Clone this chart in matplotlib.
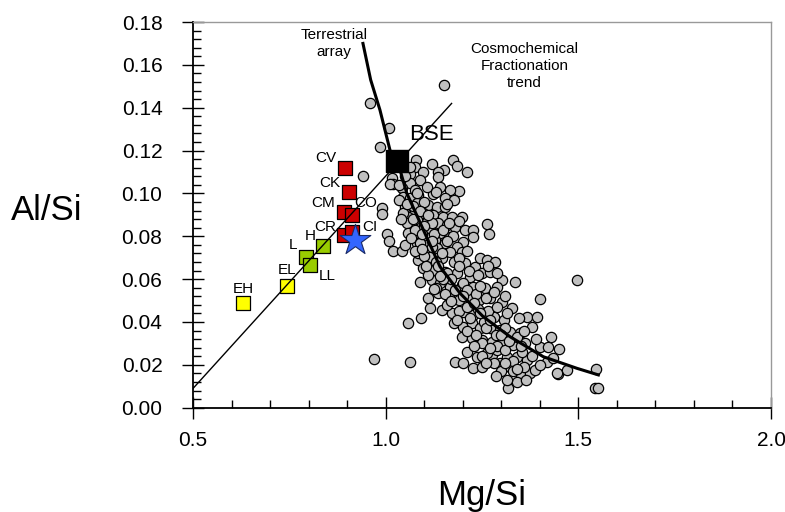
import matplotlib.pyplot as plt
import numpy as np
from matplotlib.ticker import MultipleLocator, FormatStrFormatter

plt.rcParams['font.family'] = ['Liberation Sans', 'DejaVu Sans']

# chondrite groups (Mg/Si, Al/Si)
chondrite_names = ['EH', 'EL', 'L', 'LL', 'H', 'CR', 'CI', 'CM', 'CO', 'CK', 'CV']
chondrite_mg = [0.630, 0.744, 0.794, 0.803, 0.837, 0.892, 0.912, 0.892, 0.912, 0.906, 0.894]
chondrite_al = [0.0489, 0.0568, 0.0705, 0.0665, 0.0755, 0.0806, 0.0822, 0.0912, 0.0899, 0.1008, 0.1117]
chondrite_class = ['E', 'E', 'O', 'O', 'O', 'C', 'C', 'C', 'C', 'C', 'C']

bse_mg, bse_al = 1.029, 0.1151
star_mg, star_al = 0.920, 0.0783

# cosmochemical fractionation trend end points
cosmo_mg = [0.50, 1.171]
cosmo_al = [0.0090, 0.1420]

# terrestrial array
terr_mg = [0.941, 0.961, 0.985, 1.011, 1.025, 1.037, 1.055, 1.098, 1.141, 1.193,
           1.253, 1.323, 1.409, 1.496, 1.552]
terr_al = [0.1700, 0.1530, 0.1390, 0.1203, 0.1150, 0.1110, 0.1000, 0.0829, 0.0658, 0.0534,
           0.0425, 0.0331, 0.0238, 0.0184, 0.0153]

# peridotite samples (Mg/Si, Al/Si)
peridotites = [
    (1.152, 0.1506), (0.958, 0.1420), (1.009, 0.1304), (0.986, 0.1218), (0.941, 0.1081),
    (1.016, 0.1071), (1.079, 0.1156), (1.076, 0.1125), (1.119, 0.1137), (1.174, 0.1156),
    (1.184, 0.1130), (1.212, 0.1099), (1.151, 0.1109), (1.135, 0.1099), (1.096, 0.1099),
    (1.063, 0.1091), (1.089, 0.1063), (1.191, 0.1013), (1.124, 0.0996), (1.063, 0.1050),
    (1.020, 0.1043), (1.085, 0.0993), (0.991, 0.0934), (0.991, 0.0903), (1.003, 0.0809),
    (1.009, 0.0778), (1.020, 0.0731), (1.042, 0.0731), (1.050, 0.0759), (1.059, 0.0394),
    (1.091, 0.0420), (0.970, 0.0226), (1.063, 0.0215), (1.262, 0.0857), (1.269, 0.0811),
    (1.336, 0.0585), (1.401, 0.0507), (1.496, 0.0596), (1.546, 0.0179), (1.542, 0.0091),
    (1.552, 0.0091), (1.318, 0.0091), (1.451, 0.0273), (1.428, 0.0331), (1.446, 0.0157),
    (1.470, 0.0176), (1.137, 0.1078), (1.063, 0.1122), (1.010, 0.1044), (1.042, 0.1024),
    (1.046, 0.0985), (1.063, 0.0977), (1.081, 0.0954), (1.111, 0.0946), (1.133, 0.0938),
    (1.154, 0.0938), (1.050, 0.0938), (1.076, 0.0915), (1.098, 0.0907), (1.124, 0.0899),
    (1.150, 0.0891), (1.171, 0.0891), (1.197, 0.0891), (1.059, 0.0891), (1.081, 0.0876),
    (1.107, 0.0868), (1.137, 0.0861), (1.158, 0.0853), (1.180, 0.0845), (1.206, 0.0829),
    (1.227, 0.0829), (1.227, 0.0798), (1.201, 0.0775), (1.089, 0.0837), (1.115, 0.0829),
    (1.141, 0.0814), (1.167, 0.0798), (1.102, 0.0798), (1.128, 0.0783), (1.154, 0.0767),
    (1.184, 0.0751), (1.107, 0.0759), (1.081, 0.0767), (1.133, 0.0744), (1.167, 0.0728),
    (1.197, 0.0728), (1.085, 0.0689), (1.115, 0.0705), (1.145, 0.0697), (1.176, 0.0681),
    (1.206, 0.0674), (1.232, 0.0658), (1.245, 0.0697), (1.262, 0.0689), (1.284, 0.0681),
    (1.098, 0.0651), (1.124, 0.0643), (1.154, 0.0635), (1.184, 0.0627), (1.219, 0.0611),
    (1.249, 0.0627), (1.271, 0.0635), (1.301, 0.0596), (1.089, 0.0588), (1.119, 0.0596),
    (1.141, 0.0581), (1.167, 0.0565), (1.197, 0.0573), (1.227, 0.0565), (1.258, 0.0557),
    (1.288, 0.0565), (1.111, 0.0511), (1.137, 0.0534), (1.163, 0.0518), (1.189, 0.0503),
    (1.215, 0.0518), (1.241, 0.0503), (1.271, 0.0511), (1.301, 0.0495), (1.327, 0.0464),
    (1.115, 0.0464), (1.145, 0.0456), (1.171, 0.0441), (1.201, 0.0448), (1.227, 0.0433),
    (1.254, 0.0441), (1.280, 0.0425), (1.306, 0.0409), (1.366, 0.0425), (1.392, 0.0425),
    (1.379, 0.0378), (1.176, 0.0394), (1.201, 0.0378), (1.223, 0.0394), (1.245, 0.0371),
    (1.271, 0.0371), (1.297, 0.0363), (1.323, 0.0355), (1.349, 0.0347), (1.197, 0.0331),
    (1.223, 0.0324), (1.249, 0.0316), (1.275, 0.0308), (1.301, 0.0301), (1.331, 0.0293),
    (1.362, 0.0301), (1.401, 0.0285), (1.422, 0.0285), (1.180, 0.0215), (1.201, 0.0207),
    (1.227, 0.0184), (1.249, 0.0191), (1.275, 0.0246), (1.297, 0.0207), (1.323, 0.0191),
    (1.349, 0.0161), (1.375, 0.0161), (1.388, 0.0176), (1.340, 0.0121), (1.236, 0.0238),
    (1.262, 0.0254), (1.288, 0.0269), (1.314, 0.0238), (1.340, 0.0238), (1.366, 0.0223),
    (1.418, 0.0215), (1.444, 0.0161), (1.076, 0.1016), (1.107, 0.1032), (1.141, 0.1032),
    (1.167, 0.1016), (1.154, 0.0977), (1.176, 0.0969), (1.068, 0.0845), (1.072, 0.0806),
    (1.055, 0.0861), (1.059, 0.0814), (1.119, 0.0861), (1.085, 0.0721),
    (1.035, 0.0970), (1.070, 0.0940), (1.100, 0.0960), (1.130, 0.1005), (1.160, 0.0950),
    (1.045, 0.0910), (1.090, 0.0920), (1.075, 0.0830), (1.100, 0.0850), (1.125, 0.0810),
    (1.150, 0.0830), (1.175, 0.0800), (1.190, 0.0870), (1.165, 0.0860), (1.065, 0.0790),
    (1.090, 0.0770), (1.120, 0.0750), (1.145, 0.0720), (1.160, 0.0780), (1.190, 0.0700),
    (1.210, 0.0730), (1.100, 0.0710), (1.130, 0.0680), (1.075, 0.0730), (1.110, 0.0620),
    (1.135, 0.0660), (1.160, 0.0630), (1.190, 0.0660), (1.215, 0.0640), (1.240, 0.0620),
    (1.265, 0.0660), (1.290, 0.0630), (1.170, 0.0600), (1.200, 0.0580), (1.130, 0.0560),
    (1.155, 0.0530), (1.180, 0.0550), (1.210, 0.0550), (1.235, 0.0530), (1.260, 0.0510),
    (1.280, 0.0540), (1.310, 0.0520), (1.245, 0.0570), (1.150, 0.0600), (1.160, 0.0480),
    (1.190, 0.0450), (1.210, 0.0470), (1.240, 0.0460), (1.265, 0.0450), (1.290, 0.0470),
    (1.315, 0.0440), (1.345, 0.0420), (1.230, 0.0490), (1.185, 0.0410), (1.255, 0.0400),
    (1.210, 0.0360), (1.235, 0.0340), (1.260, 0.0370), (1.285, 0.0340), (1.310, 0.0370),
    (1.340, 0.0330), (1.360, 0.0360), (1.390, 0.0320), (1.250, 0.0300), (1.290, 0.0290),
    (1.210, 0.0260), (1.250, 0.0240), (1.280, 0.0210), (1.310, 0.0270), (1.330, 0.0220),
    (1.355, 0.0260), (1.380, 0.0240), (1.400, 0.0200), (1.435, 0.0230), (1.300, 0.0170),
    (1.360, 0.0190), (1.315, 0.0130), (1.330, 0.0170), (1.285, 0.0150), (1.365, 0.0130),
    (1.035, 0.1040), (1.050, 0.1080), (1.040, 0.0880), (1.055, 0.0950), (1.070, 0.0880),
    (1.080, 0.1000), (1.095, 0.0810), (1.110, 0.0900), (1.120, 0.0780), (1.095, 0.0740),
    (1.105, 0.0660), (1.140, 0.0615), (1.125, 0.0555), (1.170, 0.0500), (1.200, 0.0520),
    (1.220, 0.0420), (1.245, 0.0440), (1.270, 0.0410), (1.300, 0.0340), (1.320, 0.0310),
    (1.350, 0.0290), (1.270, 0.0280), (1.230, 0.0290), (1.260, 0.0210), (1.310, 0.0210),
    (1.340, 0.0180),
]
perid = np.array(peridotites)

class_colors = {'E': '#ffff00', 'O': '#99cc00', 'C': '#cc0000'}

# label offsets in pixels from each marker
label_offsets = {
    'EH': (0, 14), 'EL': (0, 16), 'L': (-13, 12), 'LL': (17, -11), 'H': (-13, 10),
    'CR': (-19, 8), 'CI': (18, 5), 'CM': (-21, 9), 'CO': (14, 12), 'CK': (-20, 9),
    'CV': (-19, 10),
}

fig = plt.figure(figsize=(7.85, 5.12), dpi=100)
ax = fig.add_axes([0.2459, 0.2037, 0.7363, 0.7533])

ax.scatter(perid[:, 0], perid[:, 1], s=55, facecolor='#c0c0c0', edgecolor='black',
           linewidth=0.9, zorder=2)
ax.scatter([1.219], [0.0822], s=60, marker='s', facecolor='#d0d0d0', edgecolor='none', zorder=1.5)

ax.plot(terr_mg, terr_al, color='black', linewidth=2.2, zorder=3)

for name, mg, al, cl in zip(chondrite_names, chondrite_mg, chondrite_al, chondrite_class):
    ax.scatter(mg, al, s=95, marker='s', facecolor=class_colors[cl], edgecolor='black',
               linewidth=0.9, zorder=4)
    ax.annotate(name, (mg, al), xytext=label_offsets[name], textcoords='offset pixels',
                ha='center', va='center', fontsize=11, zorder=6)

ax.plot(cosmo_mg, cosmo_al, color='black', linewidth=1.0, zorder=5)

ax.scatter(bse_mg, bse_al, s=230, marker='s', facecolor='black', edgecolor='black', zorder=5)
ax.annotate('BSE', (bse_mg, bse_al), xytext=(35, 27), textcoords='offset pixels',
            ha='center', va='center', fontsize=16)

ax.scatter(star_mg, star_al, s=540, marker='*', facecolor='#3366ff', edgecolor='#1a2a66',
           linewidth=0.8, zorder=6)

ax.text(0.865, 0.1700, 'Terrestrial\narray', ha='center', va='center', fontsize=11,
        linespacing=1.25)
ax.text(1.360, 0.1595, 'Cosmochemical\nFractionation\ntrend', ha='center', va='center',
        fontsize=11, linespacing=1.3)

ax.set_xlim(0.5, 2.0)
ax.set_ylim(0.0, 0.18)
ax.xaxis.set_major_locator(MultipleLocator(0.5))
ax.xaxis.set_minor_locator(MultipleLocator(0.1))
ax.yaxis.set_major_locator(MultipleLocator(0.02))
ax.yaxis.set_minor_locator(MultipleLocator(0.004))
ax.xaxis.set_major_formatter(FormatStrFormatter('%.1f'))
ax.yaxis.set_major_formatter(FormatStrFormatter('%.2f'))

ax.tick_params(which='major', direction='inout', length=16, width=1.0, labelsize=15)
ax.tick_params(which='minor', direction='in', length=6, width=1.0)
ax.tick_params(axis='y', which='major', pad=14)
ax.tick_params(axis='x', which='major', pad=9)

for side in ['left', 'bottom']:
    ax.spines[side].set_linewidth(1.3)
for side in ['top', 'right']:
    ax.spines[side].set_color('#999999')
    ax.spines[side].set_linewidth(1.0)

fig.text(47 / 785, 1 - 211 / 512, 'Al/Si', ha='center', va='center', fontsize=25)
fig.text(482 / 785, 1 - 495 / 512, 'Mg/Si', ha='center', va='center', fontsize=25)

fig.savefig('out.png', dpi=100)
